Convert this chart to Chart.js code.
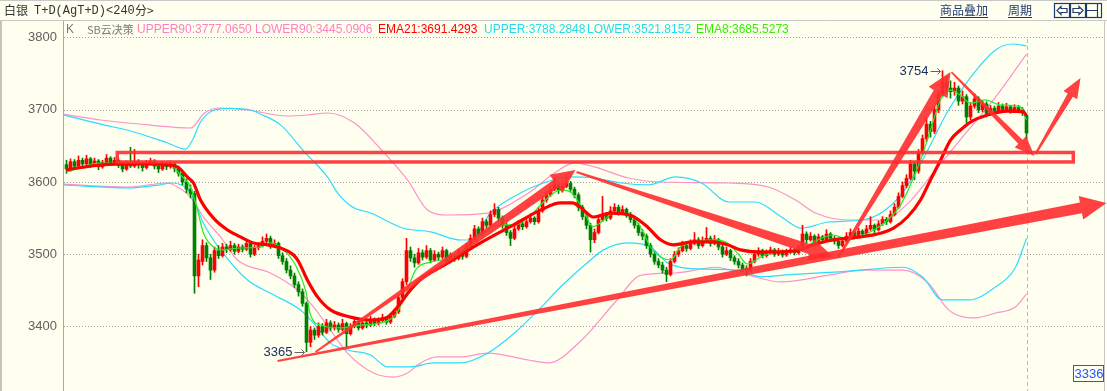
<!DOCTYPE html>
<html><head><meta charset="utf-8">
<script src="https://cdn.jsdelivr.net/npm/chart.js@4/dist/chart.umd.min.js"></script>
<style>html,body{margin:0;padding:0;background:#FFFFF0;overflow:hidden}canvas{display:block}</style>
</head><body>
<canvas id="c" width="1107" height="391"></canvas>
<script>
// ---------- candle data (one candle per 240-minute bar) ----------
const opens = [
3624,3618,3628,3622,3630,3625,3632,3624,3629,3621,
3627,3633,3626,3630,3623,3618,3625,3622,3628,3624,
3620,3626,3629,3622,3618,3624,3621,3625,3619,3612,
3600,3590,3584,3470,3490,3512,3495,3478,3505,3498,
3510,3506,3512,3504,3510,3507,3515,3500,3509,3512,
3518,3522,3512,3515,3498,3490,3478,3470,3458,3448,
3432,3378,3395,3388,3400,3392,3405,3398,3402,3396,
3404,3390,3400,3407,3398,3405,3402,3410,3404,3408,
3412,3406,3414,3420,3440,3462,3505,3495,3488,3502,
3496,3505,3492,3500,3496,3505,3490,3498,3494,3502,
3497,3510,3522,3535,3528,3545,3540,3555,3562,3550,
3540,3530,3522,3535,3542,3538,3545,3550,3545,3560,
3575,3582,3590,3596,3588,3594,3598,3590,3582,3565,
3552,3540,3520,3530,3548,3555,3550,3560,3565,3558,
3562,3555,3548,3540,3530,3525,3512,3500,3490,3485,
3478,3472,3490,3500,3505,3512,3508,3515,3520,3512,
3518,3522,3515,3520,3510,3500,3505,3495,3490,3485,
3480,3478,3490,3500,3505,3498,3502,3506,3500,3504,
3499,3503,3506,3502,3508,3528,3520,3525,3518,3524,
3520,3528,3522,3518,3512,3518,3525,3530,3526,3532,
3528,3535,3540,3534,3542,3548,3545,3555,3565,3580,
3595,3605,3625,3615,3640,3660,3680,3670,3700,3722,
3738,3730,3725,3730,3712,3718,3690,3705,3715,3700,
3708,3695,3702,3698,3705,3700,3704,3698,3703,3700,
3692];
const highs = [
3630,3632,3631,3636,3633,3637,3634,3633,3631,3630,
3638,3635,3634,3632,3626,3629,3648,3645,3631,3627,
3630,3633,3631,3625,3628,3627,3629,3627,3622,3615,
3604,3596,3587,3500,3520,3516,3500,3510,3512,3515,
3514,3518,3515,3514,3513,3520,3517,3512,3516,3524,
3528,3525,3520,3517,3502,3494,3484,3474,3462,3452,
3434,3400,3398,3405,3404,3410,3408,3407,3405,3410,
3406,3404,3412,3409,3409,3408,3414,3412,3412,3417,
3414,3418,3424,3444,3466,3522,3510,3500,3508,3506,
3512,3508,3505,3503,3510,3507,3502,3500,3507,3504,
3515,3527,3540,3538,3550,3548,3560,3570,3565,3553,
3543,3533,3540,3547,3545,3550,3556,3552,3565,3580,
3587,3595,3606,3599,3599,3606,3601,3593,3585,3568,
3556,3543,3535,3552,3580,3558,3566,3570,3568,3567,
3564,3558,3551,3543,3534,3528,3515,3504,3494,3489,
3482,3494,3504,3509,3518,3515,3520,3530,3523,3524,
3537,3525,3526,3522,3513,3510,3507,3498,3494,3488,
3484,3494,3504,3509,3507,3506,3510,3508,3508,3506,
3507,3510,3508,3512,3540,3531,3530,3527,3528,3526,
3534,3530,3525,3520,3522,3530,3535,3532,3536,3534,
3540,3552,3542,3546,3552,3551,3560,3570,3585,3600,
3610,3630,3628,3645,3665,3688,3684,3705,3726,3754,
3746,3740,3738,3733,3726,3721,3710,3722,3718,3712,
3711,3706,3705,3710,3708,3709,3706,3707,3706,3703,
3694];
const lows = [
3612,3615,3619,3620,3621,3623,3620,3622,3617,3619,
3625,3623,3624,3620,3614,3616,3620,3620,3619,3615,
3618,3624,3618,3613,3616,3617,3619,3614,3608,3596,
3585,3578,3446,3455,3485,3490,3465,3475,3494,3496,
3502,3504,3500,3502,3503,3505,3496,3498,3506,3510,
3515,3508,3510,3494,3486,3474,3466,3454,3442,3428,
3365,3372,3382,3385,3388,3390,3394,3395,3392,3394,
3372,3388,3398,3395,3396,3398,3400,3401,3402,3406,
3403,3404,3412,3418,3438,3458,3490,3482,3486,3492,
3494,3488,3490,3492,3494,3486,3488,3490,3492,3493,
3495,3508,3520,3524,3526,3536,3538,3552,3546,3536,
3526,3512,3520,3533,3534,3536,3543,3541,3543,3558,
3572,3580,3588,3584,3586,3592,3586,3578,3560,3548,
3535,3503,3516,3528,3545,3546,3548,3558,3554,3556,
3551,3544,3536,3526,3520,3508,3496,3486,3481,3474,
3462,3470,3488,3497,3503,3504,3506,3513,3508,3510,
3516,3511,3513,3506,3496,3498,3491,3486,3481,3476,
3470,3476,3488,3497,3495,3496,3500,3497,3498,3496,
3497,3501,3499,3500,3506,3516,3518,3514,3516,3516,
3518,3519,3514,3508,3510,3516,3523,3522,3524,3524,
3526,3533,3530,3532,3540,3541,3543,3553,3563,3578,
3592,3603,3603,3612,3637,3656,3662,3667,3696,3718,
3724,3716,3720,3706,3708,3682,3686,3702,3696,3697,
3690,3692,3694,3696,3697,3698,3695,3696,3697,3692,
3660];
const closes = [
3618,3628,3622,3630,3625,3632,3624,3629,3621,3627,
3633,3626,3630,3623,3618,3625,3622,3628,3624,3620,
3626,3629,3622,3618,3624,3621,3625,3619,3612,3600,
3590,3584,3470,3492,3512,3495,3478,3505,3498,3510,
3506,3512,3504,3510,3507,3515,3500,3509,3512,3518,
3522,3512,3515,3498,3490,3478,3470,3458,3448,3432,
3378,3395,3388,3400,3392,3405,3398,3402,3396,3404,
3390,3400,3407,3398,3405,3402,3410,3404,3408,3412,
3406,3414,3420,3440,3462,3505,3495,3488,3502,3496,
3505,3492,3500,3496,3505,3490,3498,3494,3502,3497,
3510,3522,3535,3528,3545,3540,3555,3562,3550,3540,
3530,3522,3535,3542,3538,3545,3550,3545,3560,3575,
3582,3590,3596,3588,3594,3598,3590,3582,3565,3552,
3540,3520,3530,3548,3555,3550,3560,3565,3558,3562,
3555,3548,3540,3530,3525,3512,3500,3490,3485,3478,
3472,3490,3500,3505,3512,3508,3515,3520,3512,3518,
3522,3515,3520,3510,3500,3505,3495,3490,3485,3480,
3478,3490,3500,3505,3498,3502,3506,3500,3504,3499,
3503,3506,3502,3508,3528,3520,3525,3518,3524,3520,
3528,3522,3518,3512,3518,3525,3530,3526,3532,3528,
3535,3540,3534,3542,3548,3545,3555,3565,3580,3595,
3605,3625,3615,3640,3660,3680,3670,3700,3722,3738,
3730,3725,3730,3712,3718,3690,3705,3715,3700,3708,
3695,3702,3698,3705,3700,3704,3698,3703,3700,3696,
3668];

// ---------- indicator lines (bar index, value) ----------
const ema21Idx = [0,8.5,18.5,26,28,30.25,31.75,33.5,36.75,40.25,43.5,46.75,50.25,53.5,56.75,58,60.25,62.75,66,71,76,80.25,82.75,86,89.25,93.5,103.5,111.75,118.5,123.5,126.5,128.5,131.75,136,141,145.25,148.5,151.75,156.75,161.75,165.25,168.5,173.5,181.75,186.75,191.75,198.5,203.5,206.75,210.25,213.5,216,218.5,221,223.5,226,230.25,235.25,239.25,240];
const ema21Val = [3617,3623.5,3625,3623.5,3620,3606.6,3598.6,3575,3550,3533.6,3524,3515.6,3513,3508.6,3499,3490,3464,3441,3423,3413,3409,3413,3427,3450.5,3468.5,3482,3515.6,3540.5,3561,3571,3571,3565,3551.5,3557,3554,3537.7,3520,3513,3517,3517,3513,3506,3503,3504.5,3513,3520,3524,3529,3536,3551.5,3575,3603,3630,3658,3672,3683,3692.7,3698,3697,3691.4293];

const ema8Idx = [0,8.5,26,28.5,31,32.75,34.25,36.75,38.5,43.5,48.5,51,54.25,57.25,59.75,61,63.5,68.5,73.5,78.5,82.25,84.75,87.25,91,96,101,104.75,108.5,112.25,116,119.75,123.5,126,129.25,131.5,134.25,136.75,141,143.5,146,148.5,151,153.5,156.75,161.75,165.25,167.75,170.25,173.5,178.5,183.5,186.75,191.75,195.25,198.5,201,204.75,208.5,211,213.5,216,218.5,221,223.5,226,229.75,233.5,238.5,240];
const ema8Val = [3614,3626,3623.5,3609.7,3593,3561,3529,3510,3506,3508.6,3510,3515.6,3506,3485,3450.5,3416,3402,3398,3402,3405,3416,3443.6,3478,3489,3495,3513,3531,3540.5,3540.5,3554,3575,3589,3586,3561,3538,3547,3557,3554,3537.7,3510,3496,3492,3510,3517,3520,3515.6,3501.7,3486.5,3496,3504.5,3506,3517,3526.6,3520,3524,3531,3544.6,3568,3596,3630,3672,3713.5,3727,3720,3709,3713.5,3706.5,3704,3685.5273];

const upperIdx = [-0.9,8.5,16,25.25,29.75,31.5,33.5,37,41,46,48.5,53.5,59.75,65.25,67.75,71.5,76,84.25,91,98.5,101,106,113.5,120,125.5,132,138.75,145.5,152.25,158.75,165.5,172.25,178.75,183.75,190.5,199,204,209,214,220.5,225.5,232.25,236.5,240];
const upperVal = [3693,3680,3670.6,3654,3645.6,3658,3683,3699.6,3702,3699.6,3694,3679,3640,3607,3585,3565.4,3557,3536,3531,3519.7,3519.7,3557,3584.8,3600,3607,3605.5,3598.6,3596,3607,3598.6,3572.3,3572.3,3551.5,3536,3544.6,3547.4,3558.5,3584.8,3630.4,3699.6,3741,3782.7,3791,3788.2848];

const lowerIdx = [-0.9,15.25,23.5,26,31,34.25,38.5,45.25,51,58.5,61.75,66,70.25,76,80.25,86,91.75,98.5,105.25,112,118.75,123.5,131,134.25,140.25,146,150.25,158.5,167.75,173.5,181.75,194.25,209,214,219,225.5,232.25,237.25,240];
const lowerVal = [3595.8,3591.7,3596,3598.6,3584.8,3543,3506,3464.4,3446,3422.8,3404.8,3377,3367.5,3360.6,3344,3344,3349.5,3349.5,3363,3391,3427,3454.6,3492,3506,3515.6,3510,3488,3479.6,3478,3469,3472,3476,3482,3468.5,3436.7,3436.7,3454.7,3482,3521.8152];

const upper90Idx = [-0.9,8.5,21,31,34.5,38.5,45.25,55.25,60.25,65.25,72,78.75,85.25,90.25,95.25,105.25,115.5,122,127,132,140.5,148.75,165.5,175.5,182.25,187.25,195.5,204,210.5,217.25,225.5,232.25,240];
const upper90Val = [3694,3685.8,3678.8,3674.7,3695.5,3702.4,3699.6,3691.3,3692.7,3695.5,3681.6,3644.3,3602.8,3561.2,3554.3,3557,3584.8,3612.4,3626.3,3620.8,3605.5,3600,3598.6,3593,3575,3557,3547.4,3547.4,3571,3616.6,3672,3717.5,3777.065];

const lower90Idx = [-0.9,15.25,25.25,27.75,31,34.25,38.5,42.75,51,57.75,61.75,66,70.25,76.75,81.75,85.25,88.5,92.75,98.5,105.25,115.5,120.5,128.75,137,143.75,152.25,162.25,170.5,178.75,190.5,199,209,215.5,220.5,227.25,232.25,237.25,240];
const lower90Val = [3597,3593,3598.6,3593,3579,3551.5,3524,3492,3474,3450.5,3427,3395,3363,3335.6,3330,3335.6,3349.5,3357.8,3357.8,3363,3353.6,3349.5,3381,3432.5,3471,3474,3482,3471,3461.6,3471,3478,3478,3460,3423,3412,3418.7,3427,3445.0906];

// ---------- axis ----------
const yTicks = [3400,3500,3600,3700,3800];
const priceTag = 3336;

// ---------- hand-drawn annotations (bar index / price) ----------
const rectIdx = [12.7, 251.7];
const rectVal = [3627.7, 3640.8];
const arrowTailIdx = [52.75, 62.25, 127.5, 193, 221.25, 242.25];
const arrowTailVal = [3352.3, 3364.7, 3613.8, 3496, 3752, 3638.7];
const arrowTipIdx  = [260, 127.25, 191.75, 221, 242, 253.5];
const arrowTipVal  = [3571, 3616.6, 3496, 3752.2, 3636, 3744];
const arrowStyle = [ // [tail half-width, shaft half-width near head, head half-width, head length]
  [1,5.5,12,26],[1,4.5,11,24],[1,5,11,24],[1,5,11,24],[0.8,3,8,20],[1,3,8,20]];

// ---------- legend items ----------
const legendItems = [
  ['K','#7a7a7a',66],['SB云决策','#7a7a7a',87],
  ['UPPER90:3777.0650','#FF80C0',137],['LOWER90:3445.0906','#FF80C0',255],
  ['EMA21:3691.4293','#FF0000',378],['UPPER:3788.2848','#22DDF0',484],
  ['LOWER:3521.8152','#22DDF0',587],['EMA8:3685.5273','#33EE00',696]];

const BG = '#FFFFF0';
const UP = '#FF0000', DN = '#008000', FLAT = '#000000';
const candleCol = closes.map((c,i)=> c>opens[i]?UP:(c<opens[i]?DN:FLAT));
const pts = (xs,vs)=>xs.map((x,k)=>({x:x,y:vs[k]}));

function wedge(ctx,x0,y0,x1,y1,w0,w1,W,H){
  const dx=x1-x0, dy=y1-y0, L=Math.hypot(dx,dy), ux=dx/L, uy=dy/L, nx=-uy, ny=ux;
  const bx=x1-ux*H, by=y1-uy*H;
  ctx.beginPath();
  ctx.moveTo(x0+nx*w0,y0+ny*w0);
  ctx.lineTo(bx+nx*w1,by+ny*w1);
  ctx.lineTo(bx+nx*W,by+ny*W);
  ctx.lineTo(x1,y1);
  ctx.lineTo(bx-nx*W,by-ny*W);
  ctx.lineTo(bx-nx*w1,by-ny*w1);
  ctx.lineTo(x0-nx*w0,y0-ny*w0);
  ctx.closePath(); ctx.fill();
}

const deco = {
  id:'deco',
  beforeDraw(ch){
    const ctx=ch.ctx, W=ch.width, H=ch.height;
    ctx.save();
    ctx.fillStyle=BG; ctx.fillRect(0,0,W,H);
    ctx.strokeStyle='#C8C8C8'; ctx.lineWidth=1;
    ctx.beginPath(); ctx.moveTo(0,0.5); ctx.lineTo(W,0.5); ctx.stroke();
    ctx.beginPath(); ctx.moveTo(0,20.5); ctx.lineTo(W,20.5); ctx.stroke();
    ctx.fillStyle='#C8C4BC'; ctx.fillRect(0,21,2,H-21);
    ctx.strokeStyle='#C8C8C8'; ctx.beginPath(); ctx.moveTo(1104.5,21); ctx.lineTo(1104.5,H); ctx.stroke();
    ctx.textBaseline='middle'; ctx.textAlign='left';
    ctx.font='12px "Noto Sans CJK SC"'; ctx.fillStyle='#333333';
    ctx.fillText('白银',4,10.5);
    ctx.font='12px "Liberation Mono","DejaVu Sans Mono"'; ctx.fillText('T+D(AgT+D)<240',34,10.5);
    ctx.font='12px "Noto Sans CJK SC"'; ctx.fillText('分>',135,10.5);
    const navy='#1F3A6E';
    ctx.fillStyle=navy; ctx.fillText('商品叠加',940,10.5); ctx.fillText('周期',1008,10.5);
    ctx.strokeStyle=navy; ctx.lineWidth=1;
    ctx.beginPath(); ctx.moveTo(940,17.5); ctx.lineTo(988,17.5); ctx.moveTo(1008,17.5); ctx.lineTo(1032,17.5); ctx.stroke();
    ctx.lineWidth=1.2;
    [1054,1070,1086].forEach(x=>{ctx.strokeRect(x+0.5,3.5,15,14);});
    ctx.beginPath();
    ctx.moveTo(1057,10.5); ctx.lineTo(1061,6.5); ctx.lineTo(1061,8.5); ctx.lineTo(1067,8.5); ctx.lineTo(1067,12.5); ctx.lineTo(1061,12.5); ctx.lineTo(1061,14.5); ctx.closePath(); ctx.stroke();
    ctx.beginPath();
    ctx.moveTo(1083,10.5); ctx.lineTo(1079,6.5); ctx.lineTo(1079,8.5); ctx.lineTo(1073,8.5); ctx.lineTo(1073,12.5); ctx.lineTo(1079,12.5); ctx.lineTo(1079,14.5); ctx.closePath(); ctx.stroke();
    ctx.beginPath(); ctx.moveTo(1087,10.5); ctx.lineTo(1097,10.5); ctx.moveTo(1097.5,4); ctx.lineTo(1097.5,17); ctx.stroke();
    ctx.restore();
  },
  beforeDatasetsDraw(ch){
    const ctx=ch.ctx, a=ch.chartArea, ys=ch.scales.y, xs=ch.scales.x;
    ctx.save();
    ctx.strokeStyle='#A0A0A0'; ctx.lineWidth=1; ctx.setLineDash([1,2]);
    yTicks.forEach(v=>{const y=Math.round(ys.getPixelForValue(v))+0.5; ctx.beginPath(); ctx.moveTo(a.left+1,y); ctx.lineTo(a.right,y); ctx.stroke();});
    ctx.strokeStyle='#B8B8B8'; ctx.setLineDash([4,3]);
    const lx=Math.round(xs.getPixelForValue(closes.length-1))+0.5;
    ctx.beginPath(); ctx.moveTo(lx,a.top+18); ctx.lineTo(lx,a.bottom); ctx.stroke();
    ctx.setLineDash([]);
    ctx.strokeStyle='#A8A8A8';
    ctx.beginPath(); ctx.moveTo(a.left+0.5,21); ctx.lineTo(a.left+0.5,ch.height); ctx.stroke();
    ctx.restore();
  },
  afterDatasetsDraw(ch){
    const ctx=ch.ctx, xs=ch.scales.x, ys=ch.scales.y;
    ctx.save();
    const red='rgba(255,45,45,0.9)';
    ctx.strokeStyle=red; ctx.fillStyle=red; ctx.lineWidth=3.5;
    const rx0=xs.getPixelForValue(rectIdx[0]), rx1=xs.getPixelForValue(rectIdx[1]);
    const ry0=ys.getPixelForValue(rectVal[1]), ry1=ys.getPixelForValue(rectVal[0]);
    ctx.strokeRect(rx0,ry0,rx1-rx0,ry1-ry0);
    arrowTailIdx.forEach((ti,k)=>{
      const s=arrowStyle[k];
      wedge(ctx,xs.getPixelForValue(ti),ys.getPixelForValue(arrowTailVal[k]),
        xs.getPixelForValue(arrowTipIdx[k]),ys.getPixelForValue(arrowTipVal[k]),s[0],s[1],s[2],s[3]);
    });
    let iMax=0,iMin=0;
    highs.forEach((h,i)=>{if(h>highs[iMax])iMax=i;});
    lows.forEach((l,i)=>{if(l<lows[iMin])iMin=i;});
    [[iMax,highs[iMax]],[iMin,lows[iMin]]].forEach(([i,v])=>{
      const x=xs.getPixelForValue(i), y=Math.round(ys.getPixelForValue(v))+0.5;
      ctx.font='13px "Liberation Sans"'; ctx.fillStyle='#1B2B5B'; ctx.textAlign='right'; ctx.textBaseline='middle';
      ctx.fillText(String(v),x-14,y);
      ctx.strokeStyle='#666'; ctx.lineWidth=1;
      ctx.beginPath(); ctx.moveTo(x-12,y); ctx.lineTo(x-2,y); ctx.moveTo(x-5,y-3); ctx.lineTo(x-2,y); ctx.lineTo(x-5,y+3); ctx.stroke();
    });
    ctx.textAlign='left'; ctx.textBaseline='middle';
    legendItems.forEach(([t,c,x])=>{
      ctx.font=/[^\x00-\x7f]/.test(t)?'11px "Noto Sans CJK SC"':'12px "Liberation Sans"';
      ctx.fillStyle=c; ctx.fillText(t,x,29.5);
    });
    const py=ys.getPixelForValue(priceTag);
    ctx.fillStyle=BG; ctx.fillRect(1073,py-8,31,17);
    ctx.strokeStyle='#2255FF'; ctx.lineWidth=1; ctx.strokeRect(1073.5,Math.round(py-8)+0.5,30,16);
    ctx.fillStyle='#2255FF'; ctx.font='13px "Liberation Sans"'; ctx.textAlign='center';
    ctx.fillText(String(priceTag),1089,Math.round(py)+1);
    ctx.restore();
  }
};

const lineDS=(label,xs,vs,color,w,order)=>({type:'line',label,data:pts(xs,vs),borderColor:color,borderWidth:w,
  pointRadius:0,fill:false,cubicInterpolationMode:'monotone',order,borderJoinStyle:'round'});

new Chart(document.getElementById('c'),{
  type:'line',
  data:{datasets:[
    lineDS('EMA21',ema21Idx,ema21Val,'#FF0000',3.2,0),
    lineDS('EMA8',ema8Idx,ema8Val,'#1EEE1E',1.2,1),
    {type:'bar',label:'body',data:closes.map((c,i)=>({x:i,y:[Math.min(opens[i],c),Math.max(opens[i],c)]})),
      backgroundColor:candleCol,barThickness:3,grouped:false,minBarLength:1,borderWidth:0,order:2},
    {type:'bar',label:'wick',data:closes.map((c,i)=>({x:i,y:[lows[i],highs[i]]})),
      backgroundColor:candleCol,barThickness:1,grouped:false,borderWidth:0,order:3},
    lineDS('UPPER',upperIdx,upperVal,'#2BDCFF',1.2,4),
    lineDS('LOWER',lowerIdx,lowerVal,'#2BDCFF',1.2,5),
    lineDS('UPPER90',upper90Idx,upper90Val,'#FF90C8',1.2,6),
    lineDS('LOWER90',lower90Idx,lower90Val,'#FF90C8',1.2,7)
  ]},
  options:{
    responsive:false,animation:false,devicePixelRatio:1,events:[],
    layout:{padding:{top:21,right:4,bottom:0,left:0}},
    plugins:{legend:{display:false},tooltip:{enabled:false}},
    scales:{
      x:{type:'linear',display:false,offset:false,min:-0.875,max:259.125,grid:{display:false}},
      y:{min:3310.7,max:3822.8,
        afterFit:s=>{s.width=63;s.paddingTop=0;s.paddingBottom=0;},
        afterBuildTicks:s=>{s.ticks=yTicks.map(v=>({value:v}));},
        grid:{display:false,drawTicks:false},border:{display:false},
        ticks:{color:'#606060',font:{family:'"Liberation Sans", Arial',size:13},padding:6,callback:v=>String(v)}}
    }
  },
  plugins:[deco]
});
</script>
</body></html>
